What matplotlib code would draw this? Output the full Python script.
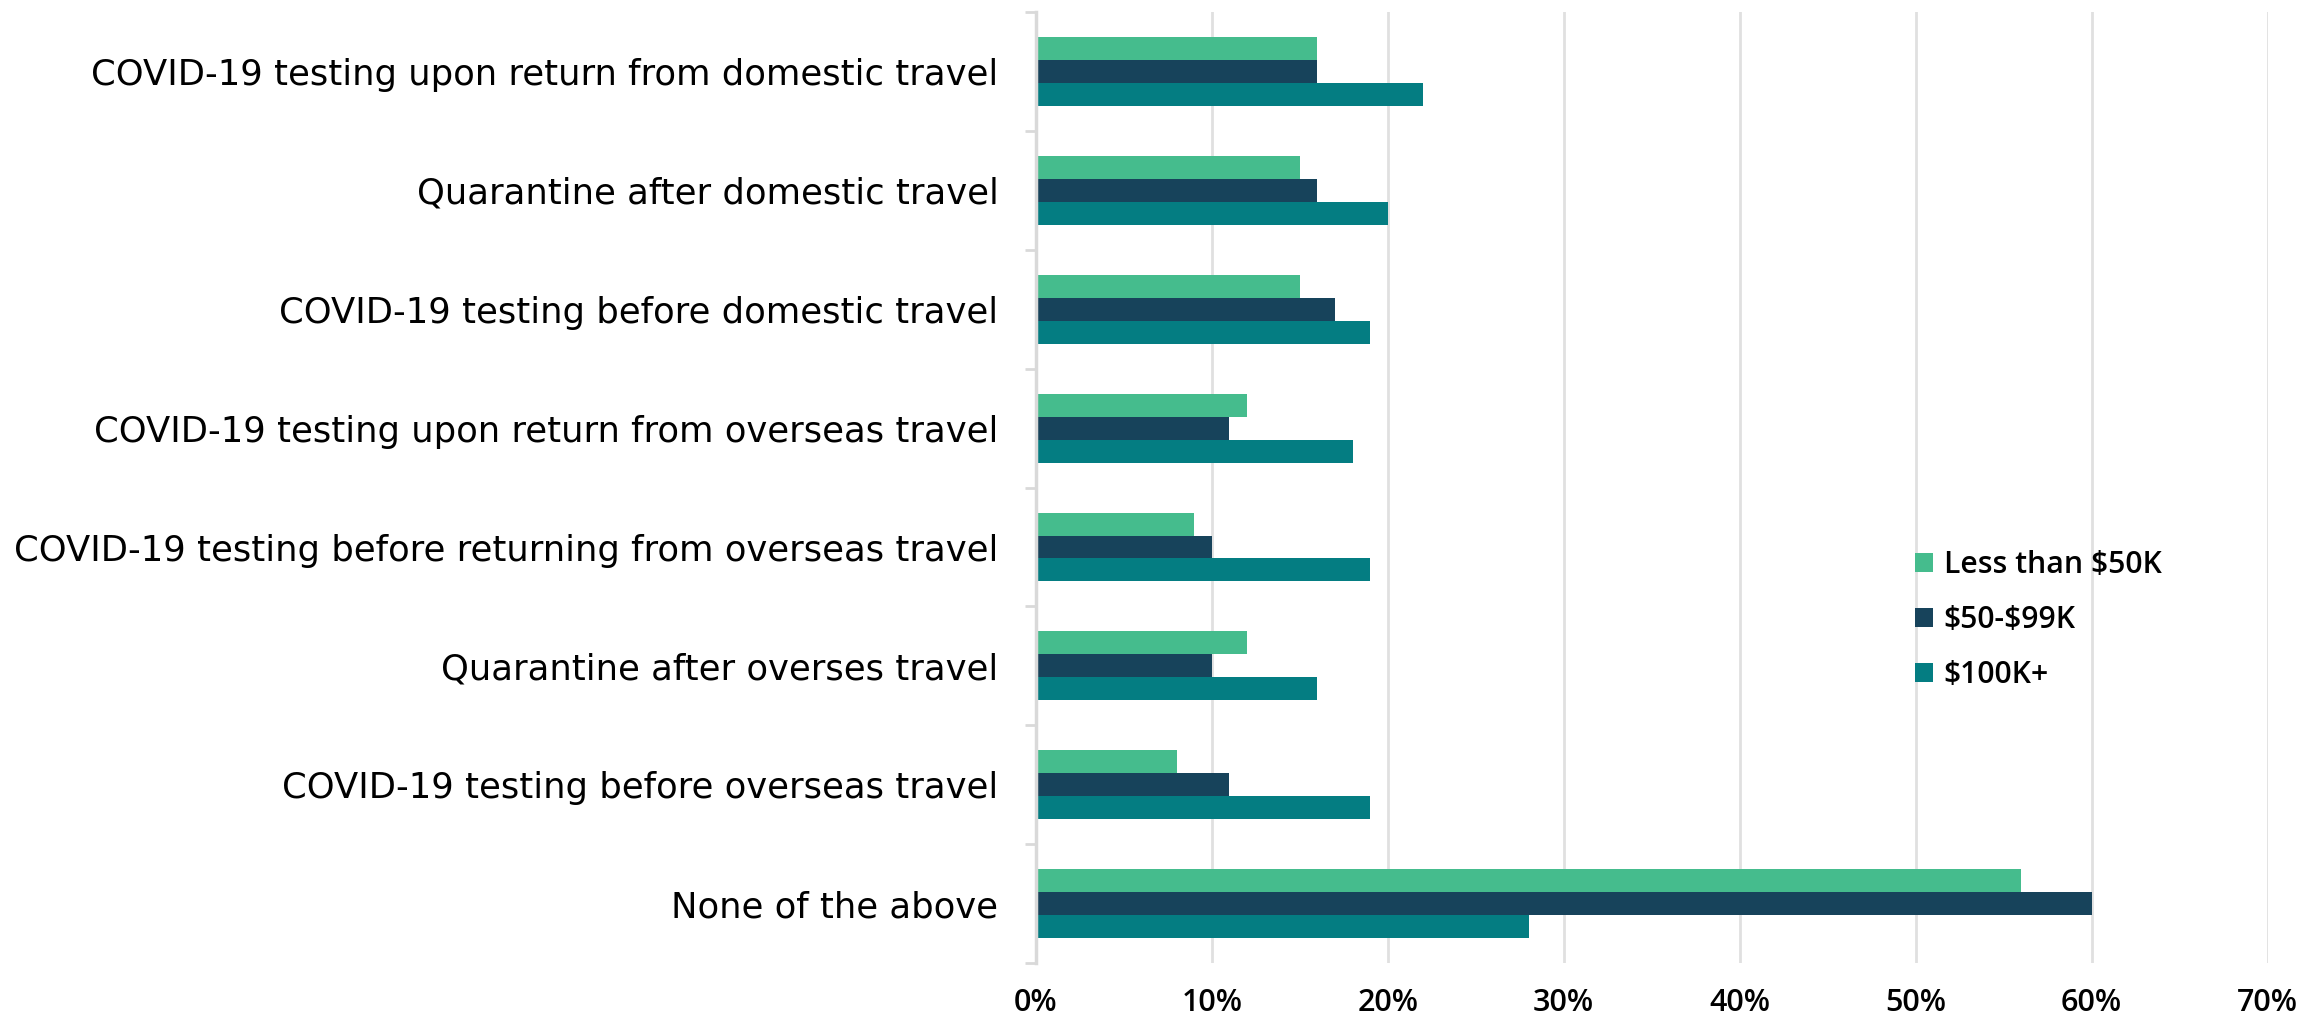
import numpy as np
import matplotlib
matplotlib.use('Agg')
from matplotlib import pyplot as plt

plt.rcParams['text.parse_math'] = False

# Survey answers (share of respondents, %)
categories = [
    'COVID-19 testing upon return from domestic travel',
    'Quarantine after domestic travel',
    'COVID-19 testing before domestic travel',
    'COVID-19 testing upon return from overseas travel',
    'COVID-19 testing before returning from overseas travel',
    'Quarantine after overses travel',
    'COVID-19 testing before overseas travel',
    'None of the above',
]
less_50k = [16, 15, 15, 12, 9, 12, 8, 56]
k50_99 = [16, 16, 17, 11, 10, 10, 11, 60]
k100_plus = [22, 20, 19, 18, 19, 16, 19, 28]
series_names = ['Less than $50K', '$50-$99K', '$100K+']
colors = ['#45BC8D', '#17435B', '#047D82']
x_ticks = [0, 10, 20, 30, 40, 50, 60, 70]

fig = plt.figure(figsize=(23.03, 10.19), dpi=100)
ax = fig.add_axes([0.4498, 0.055, 0.5348, 0.933])

y = np.arange(len(categories))
h = 0.193
for off, vals, name, c in zip([-h, 0, h], [less_50k, k50_99, k100_plus],
                              series_names, colors):
    ax.barh(y + off, vals, height=h, color=c, label=name, zorder=3)

ax.set_ylim(len(categories) - 0.5, -0.5)
ax.set_xlim(0, 70)

# y labels and category separators
ax.set_yticks(y)
ax.set_yticklabels(categories, fontsize=25.5, family='DejaVu Sans')
ax.tick_params(axis='y', which='major', length=0, pad=27)
ax.set_yticks(np.arange(-0.5, len(categories)), minor=True)
ax.tick_params(axis='y', which='minor', length=8, width=2, color='#d9d9d9')

ax.set_xticks(x_ticks)
ax.set_xticklabels([f'{t}%' for t in x_ticks], fontsize=22,
                   family='Open Sans', weight='semibold')
ax.tick_params(axis='x', length=0, pad=18)

ax.grid(axis='x', color='#e0e0e0', linewidth=2, zorder=0)
for s in ['top', 'right', 'bottom']:
    ax.spines[s].set_visible(False)
ax.spines['left'].set_color('#d9d9d9')
ax.spines['left'].set_linewidth(2.5)
ax.spines['left'].set_zorder(4)

ax.legend(loc='center left', bbox_to_anchor=(0.8315, 0.3915),
          bbox_transform=fig.transFigure, frameon=False,
          prop={'family': 'Open Sans', 'size': 21.7, 'weight': 'semibold'},
          handlelength=0.6, handleheight=0.6, handletextpad=0.35,
          labelspacing=0.82, borderpad=0, borderaxespad=0)

fig.savefig('out.png', dpi=100)
